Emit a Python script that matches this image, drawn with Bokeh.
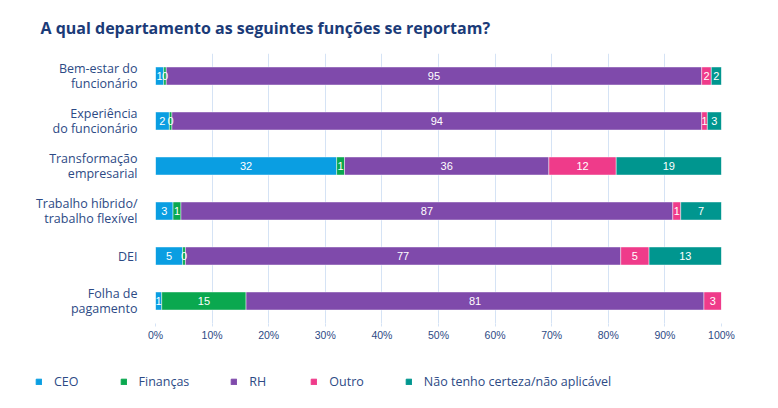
import math
from bokeh.plotting import figure
from bokeh.models import (ColumnDataSource, FactorRange, Range1d, FixedTicker,
                          PrintfTickFormatter, Legend, LegendItem, Title)
from bokeh.core.properties import value
from bokeh.embed import file_html
from bokeh.resources import INLINE

title_text = "A qual departamento as seguintes funções se reportam?"

categories = [
    "Bem-estar do\nfuncionário",
    "Experiência\ndo funcionário",
    "Transformação\nempresarial",
    "Trabalho híbrido/\ntrabalho flexível",
    "DEI",
    "Folha de\npagamento",
]

series_names = ["CEO", "Finanças", "RH", "Outro", "Não tenho certeza/não aplicável"]
series_colors = ["#0a9ee2", "#0aa84f", "#7f4aab", "#ef3b8a", "#00968f"]

ceo      = [1.45, 2.45, 32.0, 3.1, 4.8, 1.1]
financas = [0.45, 0.45, 1.4, 1.4, 0.49, 14.9]
rh       = [94.6, 93.6, 36.1, 86.9, 76.91, 80.9]
outro    = [1.7, 1.0, 11.9, 1.4, 5.0, 3.1]
nao_sei  = [1.8, 2.5, 18.6, 7.2, 12.8, 0.0]

x_ticks = [0, 10, 20, 30, 40, 50, 60, 70, 80, 90, 100]

keys = ["ceo", "fin", "rh", "outro", "ns"]
series = [ceo, financas, rh, outro, nao_sei]

data = {"cat": categories}
for k, s in zip(keys, series):
    data[k] = s
source = ColumnDataSource(data)

W, H = 770, 352
p = figure(width=W, height=H, output_backend="svg", toolbar_location=None,
           y_range=FactorRange(*list(reversed(categories))),
           x_range=Range1d(0, 100),
           min_border_left=155, min_border_right=W - 721,
           min_border_top=51, min_border_bottom=H - 323)

renderers = p.hbar_stack(keys, y="cat", height=0.4, color=series_colors,
                         source=source, line_color="white", line_alpha=0.55,
                         line_width=0.8)

# segment labels
lx, ly, lt = [], [], []
for i, c in enumerate(categories):
    acc = 0.0
    for s in series:
        v = s[i]
        if v > 0:
            lx.append(acc + v / 2)
            ly.append(c)
            lt.append(str(int(math.floor(v + 0.5))))
        acc += v
lsrc = ColumnDataSource(dict(x=lx, y=ly, t=lt))
p.text(x="x", y="y", text="t", source=lsrc, text_color="white",
       text_font=value("Liberation Sans"), text_font_size="11px",
       text_align="center", text_baseline="middle")

# title
p.title = Title(text=title_text, text_font="Open Sans",
                text_font_size="16px", text_font_style="bold",
                text_color="#1b3b78", offset=40 - 155, standoff=29)

# axes
p.xaxis.ticker = FixedTicker(ticks=x_ticks)
p.xaxis.formatter = PrintfTickFormatter(format="%d%%")
p.xaxis.axis_line_color = None
p.xaxis.major_tick_line_color = "#d5e3f5"
p.xaxis.major_tick_out = 3
p.xaxis.major_tick_in = 0
p.xaxis.minor_tick_line_color = None
p.xaxis.major_label_text_font = "Liberation Sans"
p.xaxis.major_label_text_font_size = "10.5px"
p.xaxis.major_label_text_color = "#2d4a85"
p.xaxis.major_label_standoff = 2

p.yaxis.axis_line_color = None
p.yaxis.major_tick_line_color = None
p.yaxis.minor_tick_line_color = None
p.yaxis.major_label_text_font = "Open Sans"
p.yaxis.major_label_text_font_size = "12.5px"
p.yaxis.major_label_text_color = "#2d4a85"
p.yaxis.major_label_text_line_height = 0.9
p.yaxis.major_label_standoff = 12

p.xgrid.grid_line_color = "#d5e3f5"
p.xgrid.grid_line_width = 1
p.ygrid.grid_line_color = None
p.outline_line_color = None

# legend in a separate strip below (its own root, so no frame alignment)
p2 = figure(width=W, height=48, output_backend="svg", toolbar_location=None,
            x_axis_location=None, y_axis_location=None,
            min_border=0, x_range=Range1d(0, 1), y_range=Range1d(0, 1))
p2.grid.visible = False
p2.outline_line_color = None
leg_r = []
for c in series_colors:
    leg_r.append(p2.hbar(y=[-10], right=[1], height=0.4, color=c))
legend = Legend(items=[LegendItem(label=n, renderers=[r]) for n, r in zip(series_names, leg_r)],
                orientation="horizontal", location=(35, 10),
                glyph_width=7, glyph_height=7, label_standoff=12, spacing=41,
                label_height=14,
                padding=0, margin=0, border_line_color=None,
                background_fill_alpha=0,
                label_text_font="Open Sans", label_text_font_size="12.5px",
                label_text_color="#2d4a85")
p2.add_layout(legend, "center")

open("out.html", "w").write(file_html([p, p2], INLINE))
